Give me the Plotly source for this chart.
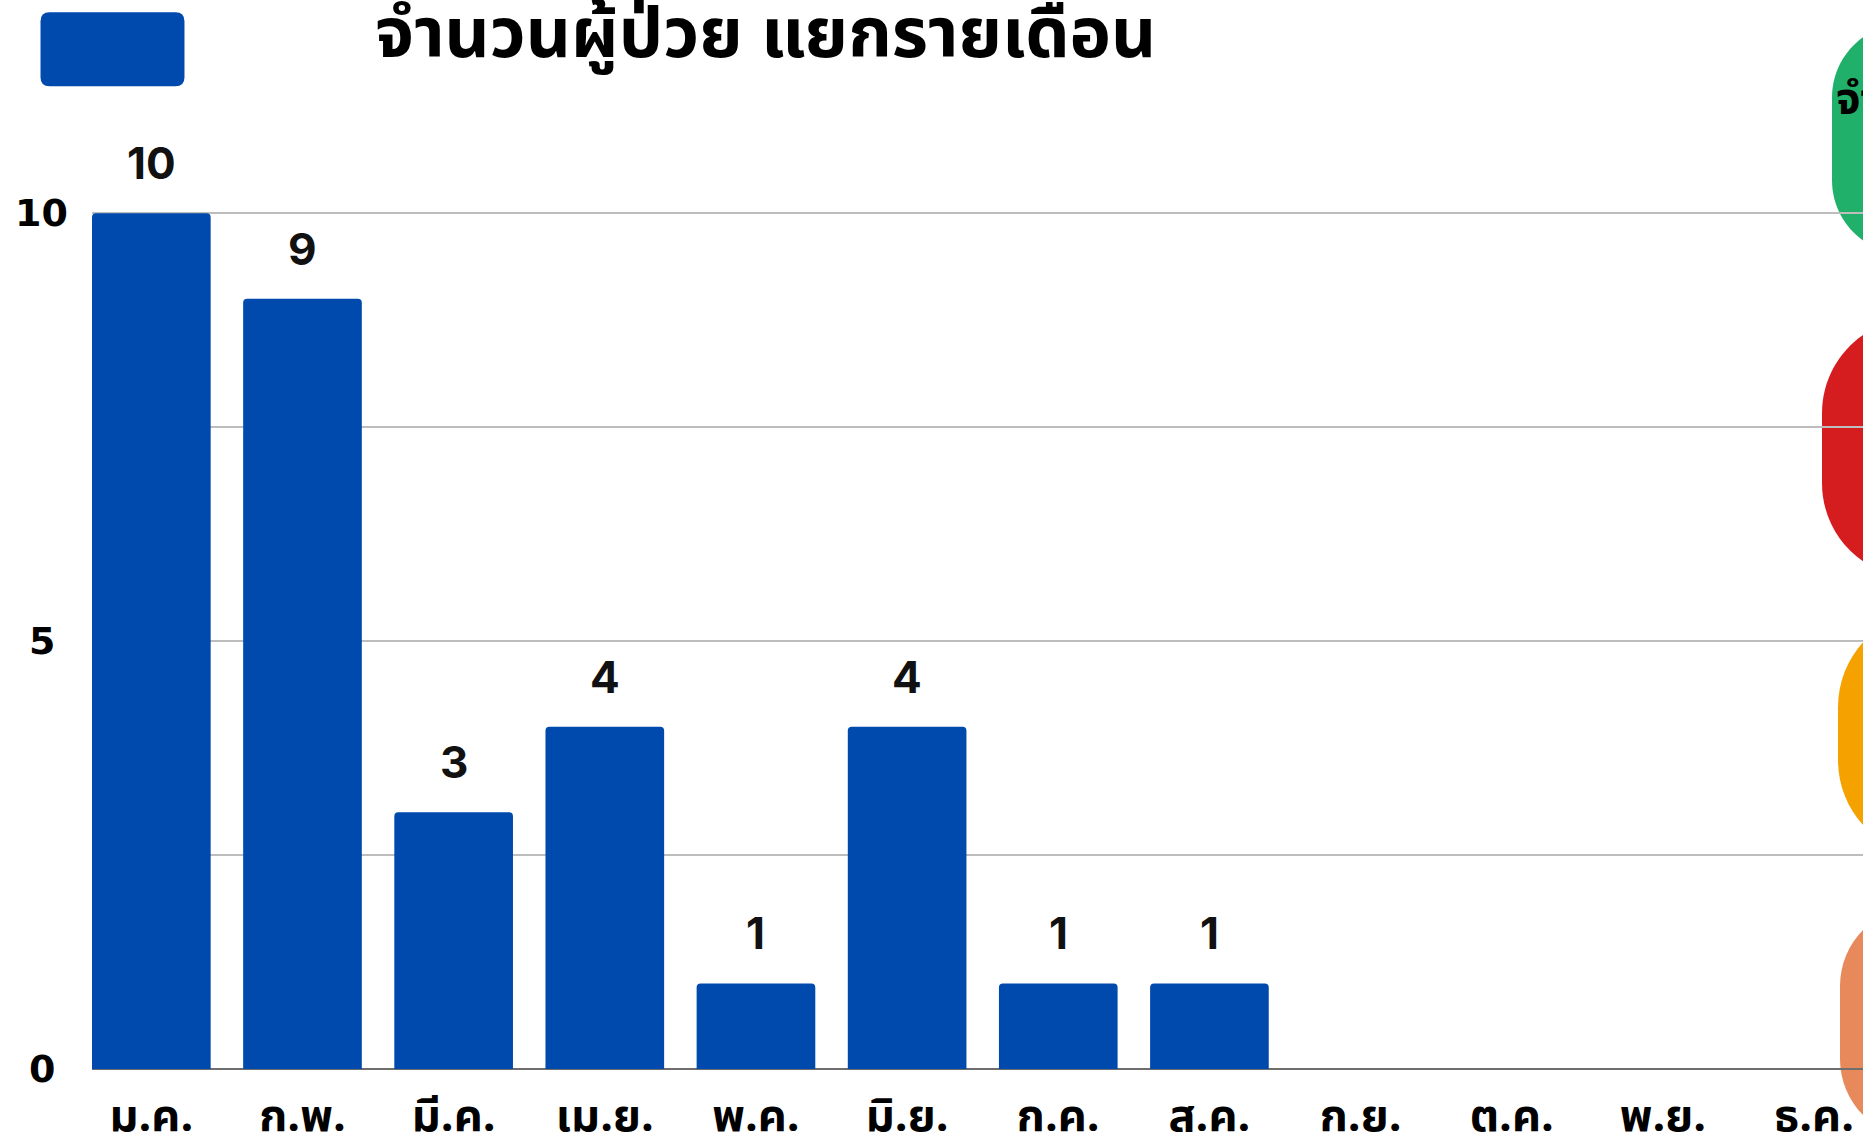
import plotly.graph_objects as go

months = ["ม.ค.", "ก.พ.", "มี.ค.", "เม.ย.", "พ.ค.", "มิ.ย.", "ก.ค.", "ส.ค.", "ก.ย.", "ต.ค.", "พ.ย.", "ธ.ค."]
patients = [10, 9, 3, 4, 1, 4, 1, 1, None, None, None, None]
ytick_vals = [0, 2.5, 5, 7.5, 10]
ytick_text = ["0", "", "5", "", "10"]
title_text = "จำนวนผู้ป่วย แยกรายเดือน"
side_text = "จำ"

BLUE = "#004AAD"
W_FIG, H_FIG = 1863, 1146
Y_TOP = 10.05
L, R, B = 91.5, 0, 77
T = 208.7
PW = W_FIG - L - R
PH = H_FIG - T - B


def px(x):
    return (x - L) / PW


def py(y):
    return 1 - (y - T) / PH


def stadium(left, top, bottom, r, color):
    far = W_FIG + 400
    k = 0.4477
    path = (
        f"M {px(far)},{py(top)} L {px(left + r)},{py(top)} "
        f"C {px(left + r * k)},{py(top)} {px(left)},{py(top + r * k)} {px(left)},{py(top + r)} "
        f"L {px(left)},{py(bottom - r)} "
        f"C {px(left)},{py(bottom - r * k)} {px(left + r * k)},{py(bottom)} {px(left + r)},{py(bottom)} "
        f"L {px(far)},{py(bottom)} Z"
    )
    return dict(type="path", xref="paper", yref="paper", path=path,
                fillcolor=color, line=dict(width=0), layer="below")


def rrect(x0, y0, x1, y1, r, color):
    path = (
        f"M {px(x0 + r)},{py(y0)} L {px(x1 - r)},{py(y0)} Q {px(x1)},{py(y0)} {px(x1)},{py(y0 + r)} "
        f"L {px(x1)},{py(y1 - r)} Q {px(x1)},{py(y1)} {px(x1 - r)},{py(y1)} "
        f"L {px(x0 + r)},{py(y1)} Q {px(x0)},{py(y1)} {px(x0)},{py(y1 - r)} "
        f"L {px(x0)},{py(y0 + r)} Q {px(x0)},{py(y0)} {px(x0 + r)},{py(y0)} Z"
    )
    return dict(type="path", xref="paper", yref="paper", path=path,
                fillcolor=color, line=dict(width=0), layer="above")


fig = go.Figure()
fig.add_trace(go.Bar(
    x=list(range(len(months))), y=patients, marker=dict(color=BLUE, line=dict(width=0)),
    hoverinfo="skip", showlegend=False,
))

annotations = []
for i, v in enumerate(patients):
    if v is None:
        continue
    annotations.append(dict(
        x=i, y=v, xref="x", yref="y", text=str(v), showarrow=False,
        yshift=50, font=dict(family="Inter", size=44, color="#111111", weight="bold"),
    ))

for v, t in zip(ytick_vals, ytick_text):
    if t:
        annotations.append(dict(
            x=px(41), y=v, xref="paper", yref="y", text=t, showarrow=False,
            xanchor="center", yanchor="middle",
            font=dict(family="DejaVu Sans", size=38, color="#000000", weight="bold"),
        ))

annotations.append(dict(
    x=px(765), y=py(36), xref="paper", yref="paper", text=title_text, showarrow=False,
    xanchor="center", yanchor="middle",
    font=dict(family="Noto Sans Thai, Noto Sans, sans-serif", size=70, color="#000000", weight="bold"),
))
annotations.append(dict(
    x=px(1834), y=py(100), xref="paper", yref="paper", text=side_text, showarrow=False,
    xanchor="left", yanchor="middle",
    font=dict(family="Noto Sans Thai, sans-serif", size=44, color="#000000", weight="bold"),
))

shapes = [
    stadium(1832, 23, 254, 74, "#20B06A"),
    stadium(1822, 318, 578, 95, "#D51C1F"),
    stadium(1838, 610, 857, 97, "#F5A100"),
    stadium(1840, 906, 1139, 80, "#E8895B"),
    rrect(40, 12, 184, 86, 9, BLUE),
]

fig.update_layout(
    width=W_FIG, height=H_FIG,
    margin=dict(l=L, r=R, t=T, b=B, pad=0),
    paper_bgcolor="white", plot_bgcolor="rgba(0,0,0,0)",
    bargap=0.215, barcornerradius=4,
    showlegend=False,
    annotations=annotations, shapes=shapes,
    xaxis=dict(
        range=[-0.3925, -0.3925 + PW / 151.2], tickmode="array",
        tickvals=list(range(len(months))), ticktext=months,
        showgrid=False, zeroline=False, showline=False, ticks="",
        ticklabelstandoff=16, automargin=False,
        tickfont=dict(family="Noto Sans Thai, sans-serif", size=45, color="#000000", weight="bold"),
    ),
    yaxis=dict(
        range=[0, Y_TOP], tickmode="array", tickvals=ytick_vals, ticktext=ytick_text,
        showticklabels=False, showgrid=True, gridcolor="#BDBDBD", gridwidth=1.5, automargin=False,
        zeroline=True, zerolinecolor="#6E6E6E", zerolinewidth=1.5, showline=False, ticks="",
    ),
)

fig.write_html(
    "out.html",
    config={"displayModeBar": False},
    post_script="document.body.style.margin='0px';document.body.style.overflow='hidden';",
)
